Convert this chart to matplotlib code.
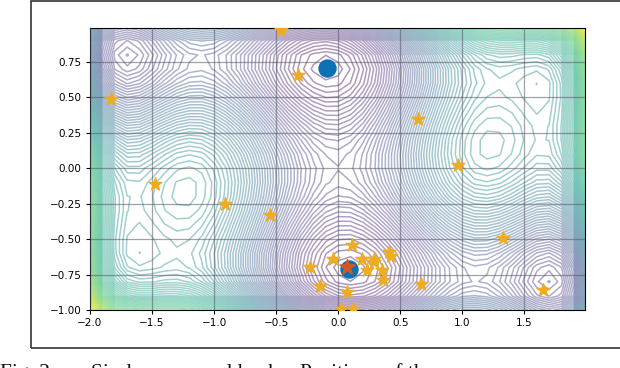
import numpy as np
import matplotlib
matplotlib.use("Agg")
import matplotlib.pyplot as plt
from matplotlib.patches import Rectangle

# Surface heights read at grid nodes, x in steps of 0.1; the field is point-symmetric,
# so the rows above y = 0 mirror these.
x_nodes = [round(-2.0 + 0.1 * i, 1) for i in range(41)]
y_nodes = [round(-1.0 + 0.1 * i, 1) for i in range(21)]

# columns x = -2.0, -1.8, ... 2.0
row_m10 = [5.73, 4.05, 3.67, 3.68, 3.60, 3.23, 2.59, 1.78, 0.99, 0.36, 0.00, -0.04, 0.19, 0.58, 0.99, 1.23, 1.20, 0.88, 0.47, 0.45, 1.73]
row_m09 = [4.92, 3.26, 2.89, 2.93, 2.87, 2.52, 1.89, 1.11, 0.33, -0.28, -0.62, -0.64, -0.39, 0.03, 0.45, 0.72, 0.71, 0.41, 0.01, 0.02, 1.32]
row_m08 = [4.41, 2.77, 2.43, 2.48, 2.44, 2.11, 1.51, 0.74, -0.01, -0.60, -0.92, -0.92, -0.65, -0.22, 0.23, 0.51, 0.52, 0.24, -0.13, -0.11, 1.21]
row_m07 = [4.13, 2.51, 2.19, 2.26, 2.24, 1.93, 1.35, 0.60, -0.13, -0.70, -1.00, -0.98, -0.69, -0.24, 0.23, 0.53, 0.56, 0.30, -0.05, -0.01, 1.33]
row_m06 = [4.01, 2.41, 2.11, 2.20, 2.20, 1.91, 1.35, 0.62, -0.09, -0.64, -0.92, -0.88, -0.57, -0.10, 0.39, 0.71, 0.76, 0.52, 0.19, 0.25, 1.61]
row_m05 = [3.98, 2.40, 2.12, 2.23, 2.25, 1.98, 1.44, 0.73, 0.04, -0.49, -0.75, -0.69, -0.36, 0.13, 0.64, 0.98, 1.05, 0.83, 0.52, 0.60, 1.98]
row_m04 = [4.00, 2.43, 2.17, 2.31, 2.34, 2.10, 1.57, 0.89, 0.21, -0.30, -0.54, -0.46, -0.11, 0.41, 0.93, 1.30, 1.38, 1.18, 0.89, 0.99, 2.40]
row_m03 = [4.01, 2.46, 2.22, 2.38, 2.43, 2.21, 1.70, 1.04, 0.38, -0.11, -0.33, -0.23, 0.14, 0.68, 1.22, 1.61, 1.71, 1.53, 1.26, 1.38, 2.81]
row_m02 = [3.98, 2.46, 2.24, 2.41, 2.49, 2.28, 1.79, 1.15, 0.51, 0.04, -0.15, -0.04, 0.35, 0.91, 1.47, 1.88, 2.01, 1.85, 1.60, 1.74, 3.18]
row_m01 = [3.89, 2.39, 2.19, 2.38, 2.48, 2.29, 1.83, 1.20, 0.59, 0.14, -0.04, 0.10, 0.51, 1.08, 1.67, 2.09, 2.24, 2.10, 1.87, 2.03, 3.49]
row_000 = [3.73, 2.25, 2.07, 2.28, 2.40, 2.23, 1.79, 1.18, 0.59, 0.16, 0.00, 0.16, 0.59, 1.18, 1.79, 2.23, 2.40, 2.28, 2.07, 2.25, 3.73]

# columns x = -1.9, -1.7, ... 1.9
odd_m10 = [4.65, 3.77, 3.67, 3.67, 3.46, 2.94, 2.20, 1.37, 0.64, 0.14, -0.06, 0.04, 0.37, 0.80, 1.14, 1.26, 1.07, 0.67, 0.37, 0.85]
odd_m09 = [3.85, 2.98, 2.90, 2.93, 2.73, 2.23, 1.51, 0.71, 0.00, -0.49, -0.67, -0.54, -0.19, 0.25, 0.61, 0.75, 0.59, 0.20, -0.08, 0.43]
odd_m08 = [3.35, 2.50, 2.44, 2.49, 2.31, 1.84, 1.13, 0.35, -0.34, -0.80, -0.96, -0.82, -0.45, 0.01, 0.40, 0.55, 0.41, 0.04, -0.22, 0.31]
odd_m07 = [3.09, 2.26, 2.22, 2.28, 2.13, 1.67, 0.99, 0.22, -0.45, -0.89, -1.03, -0.87, -0.48, 0.00, 0.41, 0.59, 0.46, 0.12, -0.12, 0.43]
odd_m06 = [2.97, 2.16, 2.14, 2.23, 2.09, 1.66, 0.99, 0.25, -0.40, -0.82, -0.94, -0.76, -0.35, 0.15, 0.58, 0.77, 0.67, 0.34, 0.12, 0.69]
odd_m05 = [2.95, 2.17, 2.17, 2.27, 2.16, 1.74, 1.10, 0.37, -0.26, -0.66, -0.76, -0.56, -0.13, 0.40, 0.84, 1.06, 0.97, 0.67, 0.47, 1.05]
odd_m04 = [2.98, 2.21, 2.23, 2.35, 2.26, 1.86, 1.24, 0.54, -0.07, -0.46, -0.54, -0.31, 0.14, 0.68, 1.14, 1.38, 1.31, 1.03, 0.85, 1.46]
odd_m03 = [3.00, 2.25, 2.29, 2.43, 2.36, 1.98, 1.38, 0.70, 0.11, -0.26, -0.32, -0.07, 0.40, 0.96, 1.44, 1.70, 1.65, 1.39, 1.23, 1.86]
odd_m02 = [2.98, 2.25, 2.31, 2.48, 2.42, 2.07, 1.48, 0.82, 0.25, -0.09, -0.13, 0.13, 0.62, 1.20, 1.71, 1.98, 1.96, 1.71, 1.57, 2.22]
odd_m01 = [2.91, 2.20, 2.28, 2.46, 2.43, 2.09, 1.53, 0.88, 0.33, 0.01, -0.01, 0.27, 0.78, 1.39, 1.91, 2.21, 2.20, 1.98, 1.86, 2.53]
odd_000 = [2.75, 2.07, 2.17, 2.37, 2.36, 2.04, 1.50, 0.87, 0.34, 0.04, 0.04, 0.34, 0.87, 1.50, 2.04, 2.36, 2.37, 2.17, 2.07, 2.75]

star_x = [-0.46, -0.32, -1.83, -1.48, -0.91, -0.55, -0.23, -0.15, -0.04, 0.11, 0.07, 0.19, 0.29, 0.23,
          0.35, 0.29, 0.41, 0.43, 0.36, 0.67, 0.07, 0.02, 0.12, 0.64, 0.97, 1.33, 1.65]
star_y = [0.975, 0.66, 0.49, -0.11, -0.25, -0.33, -0.70, -0.83, -0.64, -0.54, -0.70, -0.64, -0.64, -0.72,
          -0.72, -0.66, -0.59, -0.62, -0.79, -0.82, -0.87, -0.99, -0.99, 0.35, 0.02, -0.49, -0.86]
optima_x = [-0.09, 0.09]
optima_y = [0.71, -0.71]
best_x = [0.07]
best_y = [-0.70]
x_ticks = [-2.0, -1.5, -1.0, -0.5, 0.0, 0.5, 1.0, 1.5]
y_ticks = [-1.00, -0.75, -0.50, -0.25, 0.00, 0.25, 0.50, 0.75]
caption_parts = ["Fig. 2.", "Six-hump camel back.", "Positions of the"]

W, H = 620, 368
fig = plt.figure(figsize=(W / 100, H / 100), dpi=100)
ax = fig.add_axes([90 / W, 1 - 310 / H, (585 - 90) / W, (310 - 28) / H])

even = np.array([row_m10, row_m09, row_m08, row_m07, row_m06, row_m05,
                 row_m04, row_m03, row_m02, row_m01, row_000])
odd = np.array([odd_m10, odd_m09, odd_m08, odd_m07, odd_m06, odd_m05,
                odd_m04, odd_m03, odd_m02, odd_m01, odd_000])
lower = np.zeros((11, 41))
lower[:, ::2] = even
lower[:, 1::2] = odd
Z = np.vstack([lower, lower[:-1][::-1, ::-1]])
ax.contour(x_nodes, y_nodes, Z, levels=np.linspace(-1.03, 5.73, 100),
           cmap="viridis", alpha=0.42, linewidths=1.1)

ax.set_xlim(-2.0, 1.99)
ax.set_ylim(-1.0, 0.99)
ax.set_xticks(x_ticks)
ax.set_yticks(y_ticks)
ax.set_yticklabels([f"{v:.2f}".replace("-", "\u2212") for v in y_ticks])
ax.tick_params(labelsize=7.5, length=3, width=0.8, pad=3)
ax.grid(True, color="#555566", alpha=0.55, lw=0.9)
ax.set_axisbelow(False)

ax.scatter(optima_x, optima_y, s=150, color="#0d70b5", zorder=3)
ax.scatter(star_x, star_y, s=95, marker="*", color="#eeac22", zorder=4)
ax.scatter(best_x, best_y, s=130, marker="*", color="#d2571f", zorder=5)

fig.add_artist(Rectangle((31 / W, 1 - 348 / H), 620 / W, 347 / H, transform=fig.transFigure,
                         fill=False, edgecolor="#333333", lw=1.2))
for part, px in zip(caption_parts, [0, 91, 300]):
    fig.text(px / W, 1 - 378 / H, part, family="Liberation Serif", fontsize=15.5, color="#111111",
             ha="left", va="baseline")
fig.savefig("out.png", dpi=100)
